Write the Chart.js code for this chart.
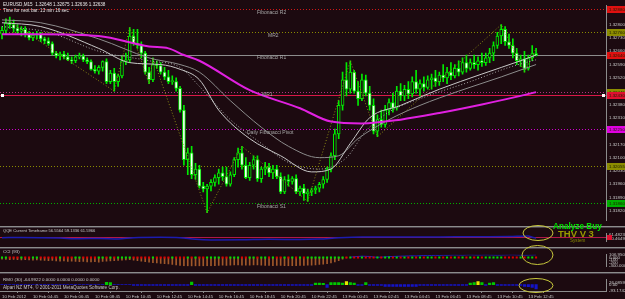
<!DOCTYPE html>
<html><head><meta charset="utf-8">
<script src="https://cdn.jsdelivr.net/npm/chart.js@4.4.1/dist/chart.umd.min.js"></script>
<style>
html,body{margin:0;padding:0;background:#1c0a10;}
#wrap{position:relative;width:625px;height:299px;overflow:hidden;background:#1c0a10}
#wrap canvas{position:absolute;left:0}
.sep{position:absolute;left:0;width:625px;height:1px;background:#8c8c8c}
.sep2{position:absolute;left:0;width:625px;height:1px;background:#4a4048}
</style></head><body><div id="wrap">
<canvas id="cMain" width="625" height="226" style="top:0px;width:625px;height:226px"></canvas>
<canvas id="cQqe" width="625" height="19" style="top:228px;width:625px;height:19px"></canvas>
<canvas id="cCci" width="625" height="23" style="top:249px;width:625px;height:23px"></canvas>
<canvas id="cRmo" width="625" height="25" style="top:274px;width:625px;height:25px"></canvas>
<div class="sep" style="top:226px"></div><div class="sep2" style="top:227px"></div>
<div class="sep" style="top:247px"></div><div class="sep2" style="top:248px"></div>
<div class="sep" style="top:272px"></div><div class="sep2" style="top:273px"></div>
<div class="sep" style="top:291px;width:607px"></div>
<canvas id="cOver" width="625" height="299" style="top:0px;width:625px;height:299px;pointer-events:none"></canvas>
</div>
<script>
// ---------------- DATA ----------------
const opens = [
1.32750,1.32770,1.32810,1.32800,1.32780,1.32765,1.32775,1.32750,1.32730,1.32745,
1.32750,1.32725,1.32715,1.32700,1.32650,1.32635,1.32645,1.32630,1.32615,1.32610,
1.32630,1.32635,1.32615,1.32605,1.32565,1.32555,1.32575,1.32605,1.32500,1.32545,
1.32500,1.32530,1.32610,1.32615,1.32740,1.32700,1.32690,1.32650,1.32550,1.32510,
1.32590,1.32585,1.32550,1.32525,1.32500,1.32500,1.32465,1.32350,1.32090,1.32125,
1.32010,1.32040,1.31950,1.31935,1.31950,1.31970,1.31995,1.32020,1.32000,1.31960,
1.32010,1.32090,1.32125,1.32060,1.31995,1.32060,1.32090,1.31990,1.32040,1.32050,
1.32020,1.32040,1.32000,1.31920,1.31985,1.31975,1.31990,1.31920,1.31940,1.31910,
1.31920,1.31930,1.31940,1.31960,1.31985,1.32040,1.32110,1.32225,1.32375,1.32510,
1.32460,1.32550,1.32450,1.32410,1.32510,1.32440,1.32375,1.32240,1.32300,1.32275,
1.32350,1.32390,1.32360,1.32450,1.32425,1.32460,1.32435,1.32500,1.32460,1.32490,
1.32470,1.32510,1.32520,1.32500,1.32535,1.32520,1.32550,1.32530,1.32570,1.32550,
1.32600,1.32570,1.32600,1.32590,1.32610,1.32600,1.32625,1.32650,1.32690,1.32740,
1.32775,1.32710,1.32690,1.32650,1.32610,1.32620,1.32570,1.32625,1.32648];
const highs = [
1.32790,1.32830,1.32840,1.32825,1.32800,1.32790,1.32790,1.32765,1.32760,1.32765,
1.32760,1.32735,1.32730,1.32710,1.32660,1.32655,1.32660,1.32650,1.32630,1.32640,
1.32650,1.32645,1.32625,1.32615,1.32585,1.32585,1.32610,1.32620,1.32560,1.32570,
1.32540,1.32635,1.32650,1.32785,1.32775,1.32775,1.32710,1.32660,1.32575,1.32625,
1.32610,1.32600,1.32575,1.32560,1.32530,1.32520,1.32475,1.32375,1.32150,1.32160,
1.32070,1.32060,1.31970,1.31960,1.31985,1.32010,1.32040,1.32050,1.32050,1.32025,
1.32100,1.32150,1.32160,1.32100,1.32075,1.32110,1.32110,1.32050,1.32075,1.32070,
1.32060,1.32060,1.32020,1.32000,1.32010,1.32000,1.32010,1.31950,1.31960,1.31935,
1.31940,1.31950,1.31970,1.32000,1.32050,1.32125,1.32250,1.32400,1.32550,1.32600,
1.32610,1.32560,1.32500,1.32540,1.32535,1.32475,1.32410,1.32325,1.32350,1.32375,
1.32410,1.32440,1.32475,1.32490,1.32480,1.32500,1.32525,1.32560,1.32510,1.32525,
1.32530,1.32540,1.32560,1.32550,1.32590,1.32575,1.32600,1.32590,1.32610,1.32625,
1.32640,1.32620,1.32640,1.32630,1.32650,1.32650,1.32675,1.32710,1.32760,1.32800,
1.32790,1.32750,1.32725,1.32675,1.32640,1.32660,1.32640,1.32690,1.32675];
const lows = [
1.32725,1.32750,1.32780,1.32760,1.32750,1.32740,1.32735,1.32720,1.32715,1.32725,
1.32710,1.32700,1.32690,1.32640,1.32625,1.32615,1.32620,1.32610,1.32595,1.32600,
1.32620,1.32605,1.32595,1.32560,1.32545,1.32540,1.32555,1.32490,1.32490,1.32450,
1.32475,1.32520,1.32590,1.32600,1.32690,1.32675,1.32625,1.32540,1.32490,1.32500,
1.32570,1.32540,1.32510,1.32490,1.32485,1.32450,1.32340,1.32060,1.32010,1.31990,
1.31985,1.31940,1.31920,1.31810,1.31925,1.31950,1.31960,1.31980,1.31950,1.31950,
1.32000,1.32050,1.32040,1.31990,1.31980,1.32040,1.31975,1.31970,1.32010,1.32000,
1.31990,1.31990,1.31910,1.31910,1.31950,1.31960,1.31910,1.31900,1.31875,1.31870,
1.31900,1.31910,1.31920,1.31940,1.31970,1.32025,1.32090,1.32200,1.32350,1.32425,
1.32440,1.32440,1.32375,1.32400,1.32425,1.32350,1.32225,1.32210,1.32260,1.32260,
1.32325,1.32340,1.32350,1.32400,1.32400,1.32410,1.32420,1.32440,1.32425,1.32450,
1.32460,1.32460,1.32475,1.32480,1.32500,1.32490,1.32510,1.32520,1.32530,1.32540,
1.32550,1.32560,1.32570,1.32560,1.32580,1.32585,1.32600,1.32610,1.32675,1.32700,
1.32690,1.32675,1.32625,1.32590,1.32580,1.32550,1.32560,1.32610,1.32636];
const closes = [
1.32770,1.32810,1.32800,1.32780,1.32765,1.32775,1.32750,1.32730,1.32745,1.32750,
1.32725,1.32715,1.32700,1.32650,1.32635,1.32645,1.32630,1.32615,1.32610,1.32630,
1.32635,1.32615,1.32605,1.32565,1.32555,1.32575,1.32605,1.32500,1.32545,1.32500,
1.32530,1.32610,1.32615,1.32740,1.32700,1.32690,1.32650,1.32550,1.32510,1.32590,
1.32585,1.32550,1.32525,1.32500,1.32505,1.32465,1.32350,1.32090,1.32125,1.32010,
1.32040,1.31950,1.31935,1.31950,1.31970,1.31995,1.32020,1.32000,1.31960,1.32010,
1.32090,1.32125,1.32060,1.31995,1.32060,1.32090,1.31990,1.32040,1.32050,1.32020,
1.32040,1.32000,1.31920,1.31985,1.31975,1.31990,1.31920,1.31940,1.31910,1.31920,
1.31930,1.31940,1.31960,1.31985,1.32040,1.32110,1.32225,1.32375,1.32510,1.32460,
1.32550,1.32450,1.32410,1.32510,1.32440,1.32375,1.32240,1.32300,1.32275,1.32350,
1.32390,1.32360,1.32450,1.32425,1.32460,1.32435,1.32500,1.32460,1.32490,1.32470,
1.32510,1.32520,1.32500,1.32535,1.32520,1.32550,1.32530,1.32570,1.32550,1.32600,
1.32570,1.32600,1.32590,1.32610,1.32600,1.32625,1.32650,1.32690,1.32740,1.32775,
1.32710,1.32690,1.32650,1.32610,1.32620,1.32570,1.32625,1.32648,1.32638];

const tickBars = [0,8,16,24,32,40,48,56,64,72,80,88,96,104,112,120,128,136];
const tickLabels = ['10 Feb 2012','10 Feb 04:45','10 Feb 06:45','10 Feb 08:45','10 Feb 10:45','10 Feb 12:45','10 Feb 14:45','10 Feb 16:45','10 Feb 18:45','10 Feb 20:45','10 Feb 22:45','13 Feb 00:45','13 Feb 02:45','13 Feb 04:45','13 Feb 06:45','13 Feb 08:45','13 Feb 10:45','13 Feb 12:45'];
const priceTicks = [1.32800,1.32730,1.32660,1.32590,1.32520,1.32450,1.32380,1.32310,1.32240,1.32170,1.32100,1.32030,1.31960,1.31890,1.31820];

const maSlowBars = [0,10,25,38,43,47,51,64,77,85,93,103,113,124,134,138];
const maSlow = [1.32750,1.32750,1.32740,1.32685,1.32675,1.32640,1.32610,1.32455,1.32360,1.32290,1.32280,1.32300,1.32335,1.32380,1.32425,1.32445];
const maFastBars = [0,10,25,33,41,46,51,56,64,72,80,85,90,95,103,113,124,134,138];
const maFast = [1.32810,1.32790,1.32675,1.32600,1.32590,1.32565,1.32510,1.32350,1.32200,1.32110,1.32025,1.32040,1.32175,1.32310,1.32375,1.32460,1.32540,1.32610,1.32640];
const maMidBars = [0,10,25,38,46,51,59,67,74,82,87,92,100,108,118,129,138];
const maMid = [1.32825,1.32810,1.32725,1.32625,1.32590,1.32550,1.32400,1.32260,1.32160,1.32100,1.32110,1.32200,1.32300,1.32375,1.32450,1.32525,1.32590];
const maDotBars = [0,12,25,38,46,51,59,67,74,82,89,94,100,110,121,131,138];
const maDot = [1.32790,1.32760,1.32660,1.32610,1.32575,1.32475,1.32300,1.32175,1.32075,1.32040,1.32100,1.32240,1.32340,1.32425,1.32500,1.32575,1.32615];
const zigBars = [1,29,33,38,39,53,62,79,90,97,129,135,138];
const zigValues = [1.32830,1.32450,1.32785,1.32490,1.32625,1.31810,1.32160,1.31870,1.32610,1.32210,1.32800,1.32550,1.32675];

const levelNames = ['Fibonacci R2','MR2','Fibonacci R1','MR1','','Daily Fibonacci Pivot','','Fibonacci S1'];
const levelValues = [1.32880,1.32760,1.32640,1.32445,1.32430,1.32250,1.32055,1.31860];
const bidPrice = 1.32638;

const qqeBars = [0,5,10,15,20,25,30,34,41,46,50,54,62,69,77,82,87,93,103,113,124,131,136,137,138];
const qqeValues = [53.5,54.0,53.5,52.4,50.8,51.4,50.3,53.5,54.5,53.5,49.3,47.7,48.2,49.3,48.7,49.8,53.5,55.6,55.1,55.6,56.1,56.6,57.7,54.5,52.4];
const qqeLevel = 54.5;
const qqeTicks = [61.4823, 50.4649];

const cci = [
-60,-70,-80,-75,-85,-90,-80,-95,-100,-90,-100,
-110,-120,-115,-130,-140,-135,-150,-145,-155,-160,-150,-165,-170,-160,-175,
-150,-140,-130,-120,-110,-100,-90,-80,-100,-120,-140,-160,-180,
-200,-210,-230,-240,-250,-270,-280,-300,
-320,-330,-340,-335,-330,-330,-325,-320,-310,-300,
-295,-300,-290,-280,-285,-290,-295,-290,-285,-280,
-290,-300,-305,-310,-300,-305,-310,-320,-315,-310,
-305,-300,-295,-290,-280,-270,-260,-240,-210,
-170,-120,-60,-20,10,
30,40,50,45,40,20,10,15,25,35,
40,45,50,55,60,65,60,70,75,70,
80,85,80,90,85,95,100,95,90,100,
105,100,95,100,105,100,95,90,95,100,
105,106,100,95,90,95,100,105];
const cciTicks = [106.95, 0, -100, -200, -300.0002];
const cciTickLabels = ['106.950','0.000','-100','-200','-300.0002'];

const rmo = [
0,0,0,0,0,0,0,0,0,0,0,0,0,0,0,0,0,0,0,0,0,0,0,0,0,0,0,
35,30,
0,0,0,0,0,
-12,-12,-12,-12,-12,-12,-12,-12,-12,-12,-12,-12,-12,-12,-12,
38,
-12,-12,-12,-12,-12,-12,-12,-12,-12,-12,-12,-12,-12,-12,-12,-12,-12,-12,-12,-12,-12,-12,-12,-12,-12,-12,-12,-12,-12,-12,-12,
25,25,20,
-40,
30,30,
30,25,45,30,25,
-12,-12,
30,
-12,-12,-12,-12,
-25,-25,-25,-25,-25,-25,-25,-25,-25,
-12,-12,-12,-12,-12,-12,-12,-12,-12,-12,-12,-12,-12,
25,30,45,30,
-12,
25,30,
-12,-12,-12,-12,-12,-12,-12,
-25,-30,-40,-65];
const rmoTicks = [26.0859, 0, -93.1742];
const rmoTickLabels = ['26.0859','0.00','-93.1742'];

// ---------------- STYLE ----------------
const FONT = "'Liberation Sans', Arial, sans-serif";
const BG = '#1c0a10';
const AXIS = '#8c8c8c';
const TXT = '#c8c8c8';
const GREEN = '#00ec00';
const SLOT = 3.87;
const XMIN = -0.52;
const XMAX = XMIN + 606 / SLOT;
const levelColors = ['#d01818','#8a8a00','#d01818','#b03080','#d81848','#d000d0','#8a8a00','#00b000'];
const levelDash = [[1,2],[1,2],[1,2],[1,2],[],[1,2],[1,2],[1,2]];
const levelBox = ['#e01010','#8c8c00','#e01010','#8c8c00','#e01030','#e000e0','#8c8c00','#00b000'];
const levelTextX = [257,268,257,262,0,247,0,257];

Chart.defaults.font.family = FONT;

function xAxis(show){
  const o = {type:'linear', min:XMIN, max:XMAX, offset:false, display:show,
    grid:{display:false}, border:{display:false}, ticks:{display:false}};
  if (show) {
    o.afterBuildTicks = s => { s.ticks = tickBars.map(v => ({value:v})); };
    o.afterFit = s => { s.height = 8; };
    o.ticks = {display:true, autoSkip:false, maxRotation:0, minRotation:0, align:'start',
      font:{size:4.3, family:FONT}, color:TXT, padding:1.5,
      callback:(v,i) => tickLabels[i]};
    o.grid = {display:true, drawOnChartArea:false, drawTicks:true, tickLength:2, color:AXIS};
  }
  return o;
}
function yAxis(min, max, ticks, fmt){
  return {type:'linear', position:'right', min, max,
    afterBuildTicks: s => { s.ticks = ticks.map(v => ({value:v})); },
    afterFit: s => { s.width = 19; },
    ticks:{autoSkip:false, font:{size:4.4, family:FONT}, color:TXT, padding:3, callback:fmt},
    grid:{display:false, drawTicks:false},
    border:{display:true, color:AXIS, width:1}};
}
const base = {responsive:false, animation:false, devicePixelRatio:1, events:[],
  layout:{padding:0, autoPadding:false},
  plugins:{legend:{display:false}, tooltip:{enabled:false}}};

function txt(ctx, s, x, y, size, color, weight){
  ctx.font = (weight||'') + ' ' + size + 'px ' + FONT;
  ctx.fillStyle = color; ctx.textBaseline = 'middle'; ctx.textAlign = 'left';
  ctx.fillText(s, x, y);
}

// ---------------- MAIN ----------------
const isBull = closes.map((c,i) => c >= opens[i]);
const mainDecor = {
  id:'mainDecor',
  beforeDatasetsDraw(chart){
    const {ctx, chartArea:a, scales:{y}} = chart;
    ctx.save();
    levelValues.forEach((v,i) => {
      const py = Math.round(y.getPixelForValue(v)) + 0.5;
      ctx.strokeStyle = levelColors[i]; ctx.lineWidth = 1; ctx.setLineDash(levelDash[i]);
      ctx.beginPath(); ctx.moveTo(a.left, py); ctx.lineTo(a.right, py); ctx.stroke();
    });
    ctx.setLineDash([]);
    const pb = Math.round(y.getPixelForValue(bidPrice)) + 0.5;
    ctx.strokeStyle = '#8c8c8c';
    ctx.beginPath(); ctx.moveTo(a.left, pb); ctx.lineTo(a.right, pb); ctx.stroke();
    ctx.restore();
  },
  afterDatasetsDraw(chart){
    const {ctx, scales:{y}} = chart;
    ctx.save();
    levelNames.forEach((n,i) => {
      if (!n) return;
      const py = y.getPixelForValue(levelValues[i]);
      txt(ctx, n, levelTextX[i], py + 3, 5, '#a8a8a8');
    });
    const pc = Math.round(y.getPixelForValue(levelValues[4]));
    ctx.fillStyle = '#ffffff';
    ctx.fillRect(1, pc-1, 3, 3); ctx.fillRect(602, pc-1, 3, 3);
    ctx.restore();
  },
  afterDraw(chart){
    const {ctx, scales:{y}} = chart;
    ctx.save();
    levelValues.forEach((v,i) => {
      const py = Math.round(y.getPixelForValue(v));
      ctx.fillStyle = levelBox[i];
      ctx.fillRect(607, py-3, 18, 7);
      txt(ctx, v.toFixed(5), 609, py + 0.5, 4.4, '#202000');
    });
    txt(ctx, 'EURUSD,M15  1.32648 1.32675 1.32636 1.32638', 3, 4.5, 4.6, '#e8e8e8');
    txt(ctx, 'Time for next bar: 13 min 16 sec', 3, 10.5, 4.6, '#e8e8e8');
    ctx.restore();
  }
};
function lineDS(bars, vals, color, width, dash, order){
  return {type:'line', data: bars.map((b,i) => ({x:b, y:vals[i]})), borderColor:color,
    borderWidth:width, borderDash:dash, pointRadius:0, cubicInterpolationMode:'monotone', order};
}
new Chart(document.getElementById('cMain'), {
  type:'bar',
  data:{datasets:[
    lineDS(maSlowBars, maSlow, '#e020e0', 2, [], -5),
    lineDS(maFastBars, maFast, '#c8c8c8', 1, [], -4),
    lineDS(maMidBars, maMid, '#8c8c8c', 1, [], -3),
    lineDS(maDotBars, maDot, '#a8a8a8', 1, [1,2], -2),
    {type:'line', data: zigBars.map((b,i) => ({x:b, y:zigValues[i]})), borderColor:'#8a8a14',
      borderWidth:1, borderDash:[1,2], pointRadius:0, tension:0, order:-1},
    {type:'bar', data: opens.map((o,i) => ({x:i, y:[o, closes[i]]})),
      backgroundColor: isBull.map(b => b ? BG : '#f4fff4'), borderColor:GREEN, borderWidth:1,
      borderSkipped:false, barThickness:3, grouped:false, minBarLength:1, order:0},
    {type:'bar', data: lows.map((l,i) => ({x:i, y:[l, highs[i]]})),
      backgroundColor:GREEN, barThickness:1, grouped:false, order:1}
  ]},
  options:{...base,
    scales:{x:xAxis(false), y:yAxis(1.3177, 1.3290, priceTicks, v => v.toFixed(5))}},
  plugins:[mainDecor]
});

// ---------------- QQE ----------------
new Chart(document.getElementById('cQqe'), {
  type:'line',
  data:{datasets:[
    {data: qqeBars.map((b,i) => ({x:b, y:qqeValues[i]})), borderColor:'#1c1cb0', borderWidth:1.5,
      pointRadius:0, cubicInterpolationMode:'monotone'}
  ]},
  options:{...base, scales:{x:xAxis(false), y:yAxis(44, 64, qqeTicks, v => v.toFixed(4))}},
  plugins:[{id:'qqeDecor',
    beforeDatasetsDraw(chart){
      const {ctx, chartArea:a, scales:{y}} = chart;
      const py = Math.round(y.getPixelForValue(qqeLevel)) + 0.5;
      ctx.save(); ctx.strokeStyle = '#b01848'; ctx.lineWidth = 1;
      ctx.beginPath(); ctx.moveTo(a.left, py); ctx.lineTo(a.right, py); ctx.stroke();
      ctx.fillStyle = '#e01030'; ctx.fillRect(607, py-2.5, 5, 5);
      ctx.restore();
    },
    afterDraw(chart){
      txt(chart.ctx, 'QQE Current Timeframe 56.5564 59.1336 61.5966', 3, 3, 4.1, TXT);
    }}]
});

// ---------------- CCI ----------------
new Chart(document.getElementById('cCci'), {
  type:'bar',
  data:{datasets:[
    {type:'line', data: cci.map((v,i) => ({x:i, y:0})), showLine:false, pointStyle:'rect',
      pointRadius:1.45, pointBorderWidth:0,
      pointBackgroundColor: isBull.map(b => b ? '#00e000' : '#e00000'), order:-2},
    {type:'line', data: cci.map((v,i) => ({x:i, y:v})), borderWidth:1, pointRadius:0,
      borderColor:'#2020c0',
      segment:{borderColor: c => (c.p0.parsed.y < 0 || c.p1.parsed.y < 0) ? 'rgba(0,0,0,0)' : '#2020c0'},
      order:-1},
    {type:'bar', data: cci.map((v,i) => ({x:i, y:v})),
      backgroundColor: cci.map(v => v < 0 ? '#a0582a' : 'rgba(0,0,0,0)'),
      barThickness:1, grouped:false, order:0}
  ]},
  options:{...base, scales:{x:xAxis(false), y:yAxis(-340, 110, cciTicks, (v,i) => cciTickLabels[i])}},
  plugins:[{id:'cciDecor', afterDraw(chart){ txt(chart.ctx, 'CCI (93)', 3, 2.5, 4.4, TXT); }}]
});

// ---------------- RMO ----------------
new Chart(document.getElementById('cRmo'), {
  type:'bar',
  data:{datasets:[
    {data: rmo.map((v,i) => ({x:i, y:v})),
      backgroundColor: rmo.map(v => v >= 40 ? '#e8e800' : (v > 0 ? '#00c800' : '#1414c8')),
      barThickness:2.5, grouped:false}
  ]},
  options:{...base, scales:{x:xAxis(true), y:yAxis(-95, 75, rmoTicks, (v,i) => rmoTickLabels[i])}},
  plugins:[{id:'rmoDecor', afterDraw(chart){
    txt(chart.ctx, 'RMO (30) -64.9922 0.0000 0.0000 0.0000 0.0000', 3, 6, 4.4, TXT);
    txt(chart.ctx, 'Alpari NZ MT4, \u00a9 2001-2011 MetaQuotes Software Corp.', 3, 13.5, 4.6, TXT);
  }}]
});

// ---------------- OVERLAY (annotations) ----------------
(function(){
  const c = document.getElementById('cOver').getContext('2d');
  c.strokeStyle = '#c8c83c'; c.lineWidth = 1;
  [[538,233,15,7.5],[537.5,255,15.5,9.5],[536,285.5,17,7]].forEach(e => {
    c.beginPath(); c.ellipse(e[0], e[1], e[2], e[3], 0, 0, Math.PI*2); c.stroke();
  });
  txt(c, 'Analyze Buy', 553, 227, 8.2, '#00e000', 'bold');
  txt(c, 'THV V 3', 558, 234.5, 9.5, '#9a9a00', 'bold');
  txt(c, 'System', 570, 241, 4.6, '#8a8a00');
})();
</script>
</body></html>
